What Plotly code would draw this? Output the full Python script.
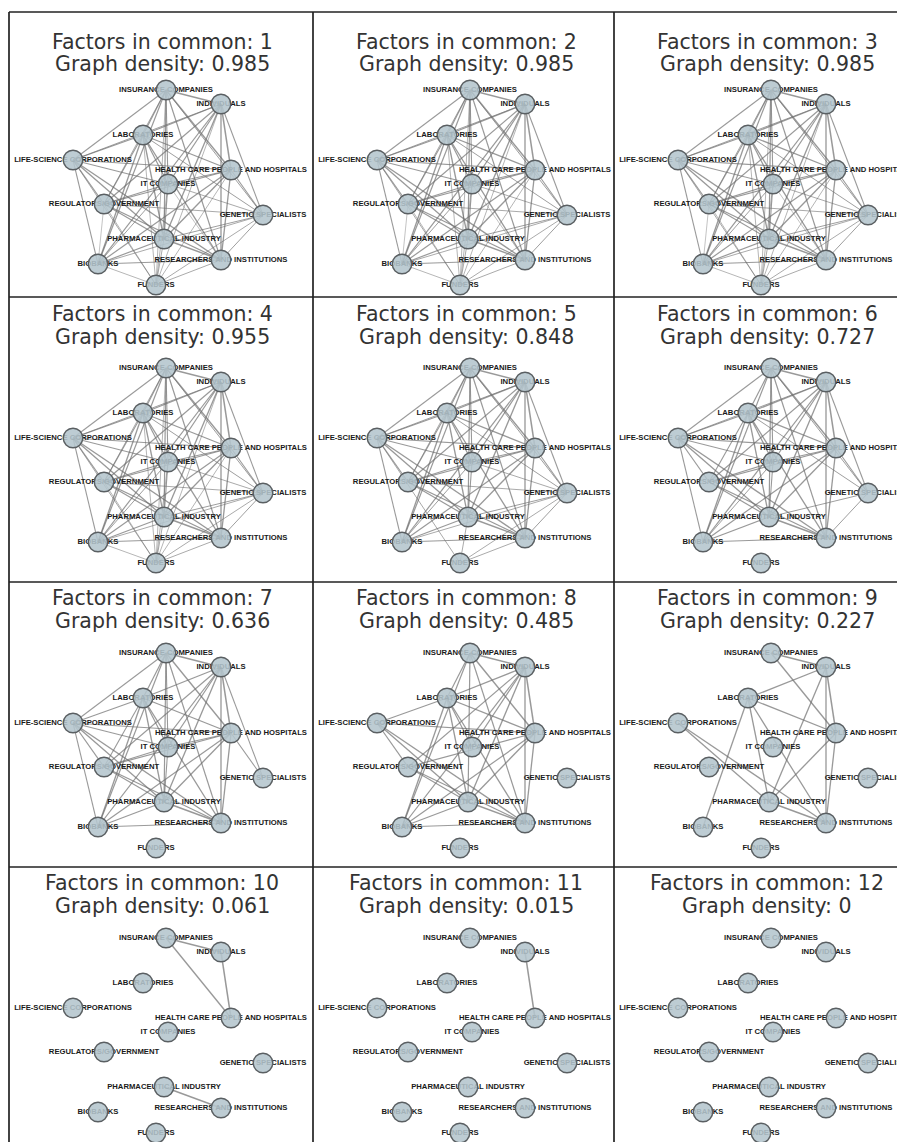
import plotly.graph_objects as go

PAGE_OFF = 8            # default body margin of the html page
W, H = 897, 1134        # figure size (page is 905x1142)

# ---- data ----
node_names = [
    "INSURANCE COMPANIES", "INDIVIDUALS", "LABORATORIES", "LIFE-SCIENCE CORPORATIONS",
    "HEALTH CARE PEOPLE AND HOSPITALS", "IT COMPANIES", "REGULATORS/GOVERNMENT",
    "GENETIC SPECIALISTS", "PHARMACEUTICAL INDUSTRY", "BIOBANKS",
    "RESEARCHERS AND INSTITUTIONS", "FUNDERS",
]
# network layout coordinates (shared by every panel)
node_x = [157, 212, 134, 64, 222, 159, 95, 254, 155, 89, 212, 147]
node_y = [71, 85, 116, 141, 151, 165, 185, 196, 220, 245, 241, 266]

# each pair of stakeholders and the number of factors they have in common
edge_src = [1, 0, 0, 8,
            1, 1, 1, 2, 2, 2, 2, 3, 3, 4, 4,
            0, 0, 0, 0, 1, 1, 1, 2, 2, 3, 3, 4, 4, 6, 6, 9, 8,
            4, 1, 0, 3, 2, 5, 5, 3, 4, 0,
            2, 7, 7, 0, 5, 1,
            3, 8, 10, 7, 6, 7, 5, 0,
            0, 1, 2, 4, 5, 6, 9,
            5, 6,
            3]
edge_dst = [4, 1, 4, 10,
            2, 8, 10, 4, 9, 8, 10, 8, 10, 8, 10,
            2, 8, 10, 9, 5, 9, 6, 3, 5, 4, 6, 6, 9, 8, 10, 10, 9,
            7, 7, 3, 9, 6, 8, 6, 5, 5, 5,
            7, 10, 8, 7, 9, 3,
            11, 11, 11, 11, 7, 9, 7, 6,
            11, 11, 11, 11, 11, 11, 11,
            10, 9,
            7]
edge_factors = [11, 10, 10, 10,
                9, 9, 9, 9, 9, 9, 9, 9, 9, 9, 9,
                8, 8, 8, 8, 8, 8, 8, 8, 8, 8, 8, 8, 8, 8, 8, 8, 8,
                7, 7, 7, 7, 7, 7, 7, 7, 7, 7,
                6, 6, 6, 6, 6, 6,
                5, 5, 5, 5, 5, 5, 5, 5,
                4, 4, 4, 4, 4, 4, 4,
                3, 3,
                0]

factors_in_common = [1, 2, 3, 4, 5, 6, 7, 8, 9, 10, 11, 12]
graph_density = ["0.985", "0.985", "0.985", "0.955", "0.848", "0.727",
                 "0.636", "0.485", "0.227", "0.061", "0.015", "0"]

# ---- layout (page pixels, converted to figure pixels) ----
col_px = [c - PAGE_OFF for c in [9, 313, 614, 917]]
row_px = [r - PAGE_OFF for r in [12, 297, 582, 867, 1152]]
row_shift = [7, 0, 0, 0]
title_y = [[30, 52], [17, 40], [16, 39], [16, 39]]
title_x = 153

fig = go.Figure()
annotations = []

for p, k in enumerate(factors_in_common):
    r, c = divmod(p, 3)
    n = "" if p == 0 else str(p + 1)
    xa, ya = "x" + n, "y" + n
    left, right = col_px[c], min(col_px[c + 1], W)
    top, bottom = row_px[r], min(row_px[r + 1], H)
    sh = row_shift[r]
    fig.update_layout({
        "xaxis" + n: dict(domain=[left / W, right / W], range=[0, right - left],
                          visible=False, fixedrange=True, anchor=ya),
        "yaxis" + n: dict(domain=[1 - bottom / H, 1 - top / H],
                          range=[bottom - top - sh, -sh],
                          visible=False, fixedrange=True, anchor=xa),
    })
    # edges, grouped by strength
    for w in sorted(set(edge_factors), reverse=True):
        if w < k:
            continue
        xs, ys = [], []
        for s, t, f in zip(edge_src, edge_dst, edge_factors):
            if f == w:
                xs += [node_x[s], node_x[t], None]
                ys += [node_y[s], node_y[t], None]
        if xs:
            fig.add_trace(go.Scatter(
                x=xs, y=ys, mode="lines", xaxis=xa, yaxis=ya, hoverinfo="skip",
                line=dict(color="rgba(110,110,110,0.7)", width=0.6 + 0.12 * (w - 3)),
                showlegend=False))
    # labels (behind the nodes)
    fig.add_trace(go.Scatter(
        x=node_x, y=node_y, mode="text", text=["<b>%s</b>" % s for s in node_names],
        xaxis=xa, yaxis=ya, textposition="middle center", hoverinfo="skip",
        textfont=dict(family="Liberation Sans", size=7.7, color="#1a1a1a"),
        showlegend=False))
    # nodes
    fig.add_trace(go.Scatter(
        x=node_x, y=node_y, mode="markers", xaxis=xa, yaxis=ya, hovertext=node_names,
        marker=dict(size=19.5, color="rgba(180,197,205,0.88)",
                    line=dict(color="#5a5f62", width=1.4)),
        showlegend=False))
    for i, txt in enumerate([f"Factors in common: {k}", f"Graph density: {graph_density[p]}"]):
        annotations.append(dict(
            xref=xa, yref=ya, x=title_x, y=title_y[r][i] - sh, text=txt, showarrow=False,
            xanchor="center", yanchor="middle",
            font=dict(family="DejaVu Sans", size=20.5, color="#333")))

shapes = []
for xp in col_px[:3]:
    shapes.append(dict(type="line", xref="paper", yref="paper",
                       x0=xp / W, x1=xp / W, y0=0, y1=1 - row_px[0] / H,
                       line=dict(color="#222", width=1.7)))
for yp in row_px[:4]:
    shapes.append(dict(type="line", xref="paper", yref="paper",
                       x0=col_px[0] / W, x1=1, y0=1 - yp / H, y1=1 - yp / H,
                       line=dict(color="#222", width=1.7)))

fig.update_layout(
    width=W, height=H, margin=dict(l=0, r=0, t=0, b=0),
    paper_bgcolor="white", plot_bgcolor="white",
    annotations=annotations, shapes=shapes, showlegend=False,
)

fig.write_html("out.html")
